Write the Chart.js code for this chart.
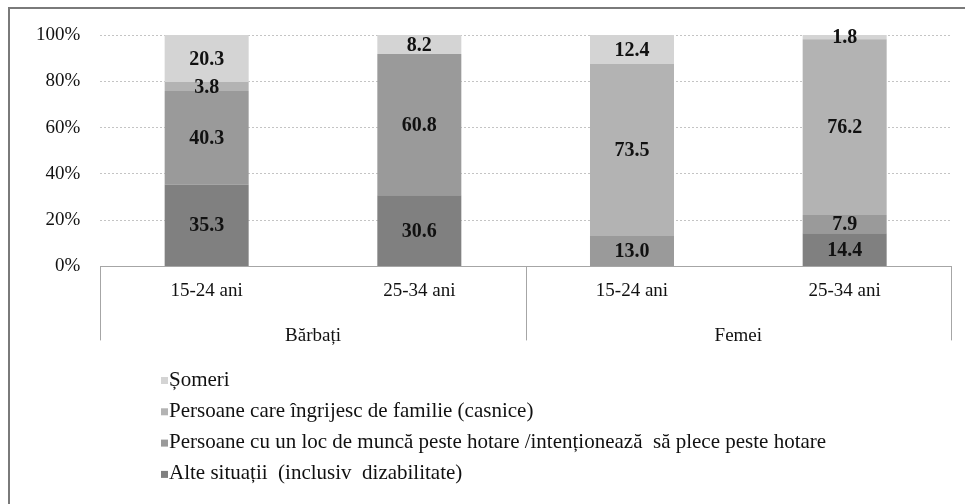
<!DOCTYPE html>
<html lang="ro">
<head>
<meta charset="UTF-8">
<title>Tineri inactivi - motive</title>
<script src="https://cdn.jsdelivr.net/npm/chart.js"></script>
<style>
  body { margin: 0; background: #fff; }
</style>
</head>
<body>
<canvas id="chart" width="965" height="504"></canvas>
<script>
// categorii
var varste = ['15-24 ani', '25-34 ani', '15-24 ani', '25-34 ani'];
var grupe = ['Bărbați', 'Femei'];

// valori (%), de jos in sus
var alte    = [35.3, 30.6, 0,    14.4];
var munca   = [40.3, 60.8, 13.0, 7.9];
var casnice = [3.8,  0,    73.5, 76.2];
var someri  = [20.3, 8.2,  12.4, 1.8];

var etichete = [
  'Alte situații  (inclusiv  dizabilitate)',
  'Persoane cu un loc de muncă peste hotare /intenționează  să plece peste hotare',
  'Persoane care îngrijesc de familie (casnice)',
  'Șomeri'
];
var culori = ['#808080', '#9a9a9a', '#b3b3b3', '#d4d4d4'];
var yTicks = [0, 20, 40, 60, 80, 100];

var serie = [alte, munca, casnice, someri];
// grafic 100% stivuit (ca in Excel): normalizam fiecare coloana
var totaluri = varste.map(function (v, i) {
  return alte[i] + munca[i] + casnice[i] + someri[i];
});

var datasets = serie.map(function (vals, k) {
  return {
    label: etichete[k],
    data: vals.map(function (v, i) { return v / totaluri[i] * 100; }),
    valori: vals,
    backgroundColor: culori[k],
    borderWidth: 0,
    categoryPercentage: 1,
    barPercentage: 0.395,
    xAxisID: 'x'
  };
});

var serif = '"Liberation Serif", "Times New Roman", serif';

// valorile in mijlocul segmentelor
var etichetePlugin = {
  id: 'etichete',
  afterDatasetsDraw: function (chart) {
    var ctx = chart.ctx;
    ctx.save();
    ctx.font = 'bold 20px ' + serif;
    ctx.fillStyle = '#111';
    ctx.textAlign = 'center';
    ctx.textBaseline = 'middle';
    chart.data.datasets.forEach(function (ds, k) {
      var meta = chart.getDatasetMeta(k);
      meta.data.forEach(function (bar, i) {
        var v = ds.valori[i];
        if (!v) return;
        var p = bar.getProps(['x', 'y', 'base'], true);
        ctx.fillText(v.toFixed(1), p.x, (p.y + p.base) / 2 + 1);
      });
    });
    ctx.restore();
  }
};

// cadrul, liniile axei de categorii si legenda verticala
var cadruPlugin = {
  id: 'cadru',
  afterDraw: function (chart) {
    var ctx = chart.ctx;
    var area = chart.chartArea;
    var x = chart.scales.x;
    ctx.save();
    ctx.strokeStyle = '#7a7a7a';
    ctx.lineWidth = 2;
    ctx.beginPath();
    ctx.moveTo(9, 504);
    ctx.lineTo(9, 8);
    ctx.lineTo(965, 8);
    ctx.stroke();

    ctx.strokeStyle = '#a6a6a6';
    ctx.lineWidth = 1;
    var mij = (x.getPixelForValue(1) + x.getPixelForValue(2)) / 2;
    [x.left, mij, x.right].forEach(function (px) {
      ctx.beginPath();
      ctx.moveTo(Math.round(px) + 0.5, area.bottom);
      ctx.lineTo(Math.round(px) + 0.5, area.bottom + 74);
      ctx.stroke();
    });

    // legenda
    ctx.font = '21px ' + serif;
    ctx.textBaseline = 'middle';
    ctx.textAlign = 'left';
    var ds = chart.data.datasets.slice().reverse();
    ds.forEach(function (d, j) {
      var y = 380 + j * 31.3;
      ctx.fillStyle = d.backgroundColor;
      ctx.fillRect(161, y - 3, 7, 7);
      ctx.fillStyle = '#111';
      ctx.fillText(d.label, 169, y);
    });
    ctx.restore();
  }
};

new Chart(document.getElementById('chart'), {
  type: 'bar',
  data: {
    labels: varste,
    datasets: datasets
  },
  options: {
    responsive: false,
    animation: false,
    layout: { padding: { top: 35, left: 16, right: 14, bottom: 148 } },
    plugins: {
      legend: { display: false },
      tooltip: { enabled: false }
    },
    scales: {
      x: {
        stacked: true,
        weight: 0,
        grid: { display: false, drawTicks: false },
        border: { display: true, color: '#a6a6a6', width: 1 },
        ticks: {
          color: '#111',
          font: { family: serif, size: 19 },
          padding: 13
        }
      },
      x2: {
        type: 'category',
        labels: grupe,
        position: 'bottom',
        weight: 1,
        offset: true,
        grid: { display: false, drawTicks: false },
        border: { display: false },
        ticks: {
          color: '#111',
          font: { family: serif, size: 19 },
          padding: 9
        }
      },
      y: {
        stacked: true,
        min: 0,
        max: 100,
        afterBuildTicks: function (axis) {
          axis.ticks = yTicks.map(function (v) { return { value: v }; });
        },
        border: { display: false, dash: [2, 2] },
        grid: {
          color: function (c) { return c.tick && c.tick.value === 0 ? 'rgba(0,0,0,0)' : '#c4c4c4'; },
          drawTicks: false
        },
        ticks: {
          color: '#111',
          font: { family: serif, size: 19 },
          padding: 20,
          callback: function (v) { return v + '%'; }
        }
      }
    }
  },
  plugins: [etichetePlugin, cadruPlugin]
});
</script>
</body>
</html>
